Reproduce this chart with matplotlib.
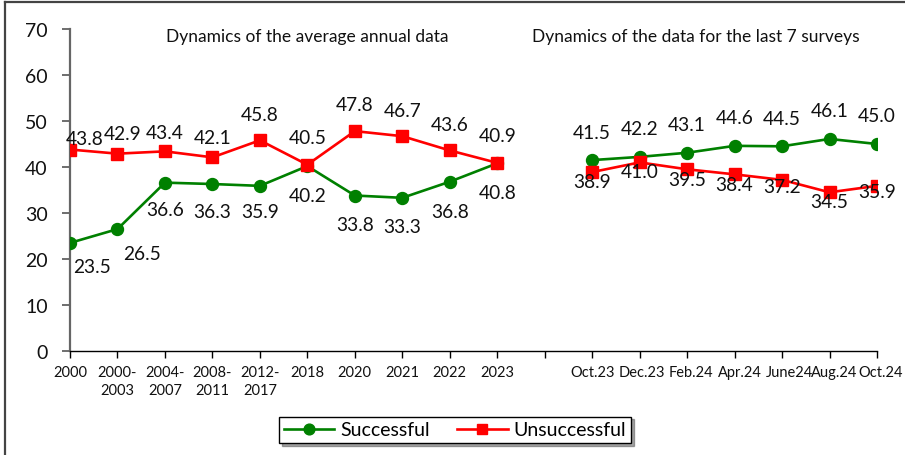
import matplotlib
matplotlib.use("Agg")
import matplotlib.pyplot as plt
from matplotlib.lines import Line2D

# ---- data ----
categories_annual = ['2000', '2000-\n2003', '2004-\n2007', '2008-\n2011', '2012-\n2017',
                     '2018', '2020', '2021', '2022', '2023']
categories_surveys = ['Oct.23', 'Dec.23', 'Feb.24', 'Apr.24', 'June24', 'Aug.24', 'Oct.24']
successful_annual = [23.5, 26.5, 36.6, 36.3, 35.9, 40.2, 33.8, 33.3, 36.8, 40.8]
unsuccessful_annual = [43.8, 42.9, 43.4, 42.1, 45.8, 40.5, 47.8, 46.7, 43.6, 40.9]
successful_surveys = [41.5, 42.2, 43.1, 44.6, 44.5, 46.1, 45.0]
unsuccessful_surveys = [38.9, 41.0, 39.5, 38.4, 37.2, 34.5, 35.9]
title_annual = 'Dynamics of the average annual data'
title_surveys = 'Dynamics of the data for the last 7 surveys'
series_names = ['Successful', 'Unsuccessful']

# ---- label offsets (pixels) ----
succ_ann_off = [(22, -24), (25, -24), (0, -27), (0, -27), (0, -26), (0, -29), (0, -29), (0, -29), (0, -30), (0, -29)]
unsucc_ann_off = [(15, 11), (5, 20), (0, 19), (0, 20), (0, 26), (0, 27), (0, 27), (0, 26), (0, 26), (0, 27)]
succ_sur_off = [(0, 28)] * 7
unsucc_sur_off = [(0, -9), (0, -9), (0, -10), (0, -10), (0, -7), (0, -9), (0, -6)]

plt.rcParams['font.family'] = ['Lato', 'DejaVu Sans']

W, H, DPI = 905, 456, 100
fig = plt.figure(figsize=(W / DPI, H / DPI), dpi=DPI)
ax = fig.add_axes([70 / W, 1 - 352 / H, (877 - 70) / W, (352 - 30) / H])

n_a = len(categories_annual)
x_ann = list(range(n_a))
x_sur = list(range(n_a + 1, n_a + 1 + len(categories_surveys)))

GREEN = '#008000'
RED = '#FF0000'
lw = 1.9
ms = 8.6

for xs, ys in [(x_ann, successful_annual), (x_sur, successful_surveys)]:
    ax.plot(xs, ys, color=GREEN, lw=lw, marker='o', ms=ms, markeredgecolor=GREEN, zorder=3)
for xs, ys in [(x_ann, unsuccessful_annual), (x_sur, unsuccessful_surveys)]:
    ax.plot(xs, ys, color=RED, lw=lw, marker='s', ms=ms, markeredgecolor=RED, zorder=4)

lab_fs = 13.8
def annotate(xs, ys, offs):
    for x, y, (dx, dy) in zip(xs, ys, offs):
        ax.annotate(f'{y:.1f}', (x, y), xytext=(dx, dy), textcoords='offset pixels',
                    ha='center', va='center', fontsize=lab_fs, color='#111111', zorder=5)

annotate(x_ann, successful_annual, succ_ann_off)
annotate(x_ann, unsuccessful_annual, unsucc_ann_off)
annotate(x_sur, successful_surveys, succ_sur_off)
annotate(x_sur, unsuccessful_surveys, unsucc_sur_off)

ax.set_xlim(0, x_sur[-1])
ax.set_ylim(0, 70)
ax.set_yticks(range(0, 71, 10))
ax.tick_params(axis='y', direction='out', length=6, width=1.2, color='#555555',
               labelsize=14, pad=10, labelcolor='#111111')

all_x = list(range(0, x_sur[-1] + 1))
ax.set_xticks(all_x)
ax.set_xticklabels([''] * len(all_x))
ax.tick_params(axis='x', direction='out', length=5, width=1.0, color='black')

xfs = 10.5
LAB_Y = -3.0
for x, lab in zip(x_ann, categories_annual):
    ax.text(x, LAB_Y, lab, ha='center', va='top', fontsize=xfs, color='#111111',
            linespacing=1.35)
shifts = [0, 0.04, 0.08, 0.12, 0.16, 0.1]
for i, (x, lab) in enumerate(zip(x_sur, categories_surveys)):
    if i == len(categories_surveys) - 1:
        ax.annotate(lab, xy=(903 / W, LAB_Y), xycoords=('figure fraction', 'data'),
                    ha='right', va='top', fontsize=xfs, color='#111111', annotation_clip=False)
    else:
        ax.text(x + shifts[i], LAB_Y, lab, ha='center', va='top', fontsize=xfs, color='#111111',
                clip_on=False)

for s in ['top', 'right']:
    ax.spines[s].set_visible(False)
ax.spines['left'].set_color('#666666')
ax.spines['left'].set_linewidth(1.6)
ax.spines['bottom'].set_color('black')
ax.spines['bottom'].set_linewidth(1.0)

fig.text(307 / W, 1 - 37 / H, title_annual, ha='center', va='center', fontsize=12.5, color='#111111')
fig.text(696 / W, 1 - 37 / H, title_surveys, ha='center', va='center', fontsize=12.5, color='#111111')

handles = [Line2D([], [], color=GREEN, lw=lw, marker='o', ms=ms * 0.9),
           Line2D([], [], color=RED, lw=lw, marker='s', ms=ms * 0.9)]
leg = fig.legend(handles, series_names, loc='center', bbox_to_anchor=(455 / W, 1 - 431 / H),
                 ncol=2, fontsize=14, frameon=True, fancybox=False, shadow=True,
                 edgecolor='black', handlelength=2.6, columnspacing=1.4,
                 borderpad=0.25, handletextpad=0.3, borderaxespad=0)
leg.get_frame().set_linewidth(1.0)

# figure border (left and top visible)
fig.add_artist(Line2D([5 / W, 5 / W], [0, 1 - 3 / H], transform=fig.transFigure,
                      color='#444444', lw=1.6))
fig.add_artist(Line2D([5 / W, 1], [1 - 3 / H, 1 - 3 / H], transform=fig.transFigure,
                      color='#444444', lw=1.6))

fig.savefig('out.png', dpi=DPI)
